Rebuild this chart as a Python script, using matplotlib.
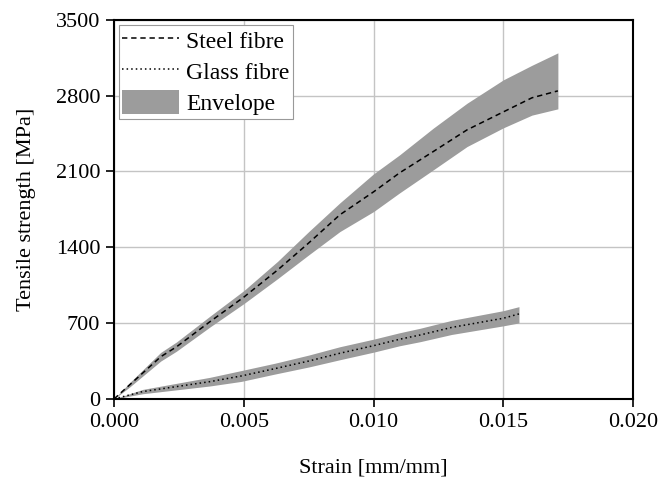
import matplotlib
matplotlib.use("Agg")
import matplotlib.pyplot as plt
from matplotlib.ticker import FormatStrFormatter

plt.rcParams['font.family'] = ['Liberation Serif', 'DejaVu Serif']

# steel fibre: mean curve and scatter envelope
steel_strain = [0, 0.0006, 0.0012, 0.0018, 0.0024, 0.0037, 0.0050, 0.0063, 0.0075,
                0.0087, 0.0100, 0.0110, 0.0123, 0.0136, 0.0150, 0.0161, 0.0171]
steel_mean = [0, 130, 260, 390, 480, 714, 940, 1190, 1440,
              1700, 1912, 2087, 2284, 2484, 2650, 2780, 2844]
steel_upper = [0, 150, 290, 430, 525, 765, 1000, 1270, 1545,
               1810, 2078, 2253, 2500, 2730, 2946, 3080, 3195]
steel_lower = [0, 110, 230, 350, 440, 665, 880, 1110, 1330,
               1545, 1730, 1902, 2115, 2330, 2503, 2620, 2678]

# glass fibre: mean curve and scatter envelope
glass_strain = [0, 0.0011, 0.0024, 0.0037, 0.0049, 0.0062, 0.0075, 0.0087,
                0.0100, 0.0110, 0.0118, 0.0130, 0.0150, 0.0156]
glass_mean = [0, 68, 114, 160, 212, 280, 350, 422,
              492, 551, 591, 660, 745, 785]
glass_upper = [0, 88, 144, 200, 262, 330, 405, 482,
               552, 611, 653, 725, 815, 852]
glass_lower = [0, 48, 84, 120, 162, 230, 295, 362,
               432, 491, 529, 595, 675, 702]

xticks = [0, 0.005, 0.010, 0.015, 0.020]
yticks = [0, 700, 1400, 2100, 2800, 3500]

fig = plt.figure(figsize=(6.63, 4.83), dpi=100)
ax = fig.add_axes([0.172, 0.174, 0.783, 0.785])

env_color = '#9c9c9c'
ax.fill_between(steel_strain, steel_lower, steel_upper, color=env_color,
                linewidth=0, label='Envelope', zorder=2)
ax.fill_between(glass_strain, glass_lower, glass_upper, color=env_color,
                linewidth=0, zorder=2)
ax.plot(steel_strain, steel_mean, color='black', linestyle=(0, (3.5, 2.5)),
        linewidth=1.1, label='Steel fibre', zorder=3)
ax.plot(glass_strain, glass_mean, color='black', linestyle=(0, (1, 2)),
        linewidth=1.1, label='Glass fibre', zorder=3)

ax.set_xlim(0, 0.020)
ax.set_ylim(0, 3500)
ax.set_xticks(xticks)
ax.set_yticks(yticks)
ax.xaxis.set_major_formatter(FormatStrFormatter('%.3f'))
ax.grid(True, color='#c4c4c4', linewidth=1.0, zorder=0)
ax.set_axisbelow(True)

for s in ax.spines.values():
    s.set_linewidth(1.5)
ax.tick_params(axis='both', direction='out', length=6, width=1.2,
               labelsize=16, pad=4)

ax.set_xlabel('Strain [mm/mm]', fontsize=16, labelpad=19)
ax.set_ylabel('Tensile strength [MPa]', fontsize=16, labelpad=14)

handles, labels = ax.get_legend_handles_labels()
order = [labels.index('Steel fibre'), labels.index('Glass fibre'), labels.index('Envelope')]
leg = ax.legend([handles[i] for i in order], [labels[i] for i in order],
                loc='upper left', fontsize=17, fancybox=False,
                edgecolor='#999999', framealpha=1, borderaxespad=0.2,
                handlelength=2.4, handletextpad=0.3, borderpad=0.15,
                labelspacing=0.27, handleheight=1.15)
leg.get_frame().set_linewidth(0.8)

fig.savefig('out.png', dpi=100)
